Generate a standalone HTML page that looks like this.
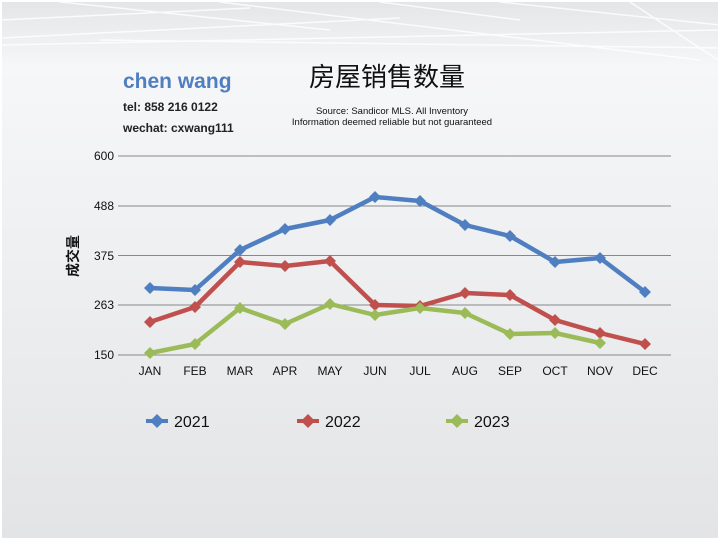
<!DOCTYPE html><html><head><meta charset="utf-8"><style>
body{margin:0;width:720px;height:540px;overflow:hidden;font-family:"Liberation Sans","Noto Sans CJK SC",sans-serif}
</style></head><body>
<svg width="720" height="540" xmlns="http://www.w3.org/2000/svg">
<defs><linearGradient id="bg" x1="0" y1="0" x2="0" y2="1">
<stop offset="0" stop-color="#e4e5e7"/><stop offset="0.12" stop-color="#f6f7f8"/><stop offset="0.5" stop-color="#eeeff1"/><stop offset="1" stop-color="#e3e4e6"/></linearGradient></defs>
<rect width="720" height="540" fill="#fff"/>
<rect x="2" y="2" width="716" height="536" fill="url(#bg)"/>
<g stroke="#fff" stroke-width="1.5" opacity="0.8" fill="none">
<path d="M60 2 L330 30 M220 2 L700 60 M380 2 L520 20 M500 2 L720 25 M630 2 L718 60 M2 20 L250 8 M2 38 L400 18 M2 45 L720 30 M100 40 L720 48"/></g>
<text x="123" y="88" font-size="21" font-weight="bold" fill="#4f7fc0" font-family="'Liberation Sans',sans-serif">chen wang</text>
<text x="123" y="111" font-size="12" font-weight="bold" fill="#222">tel: 858 216 0122</text>
<text x="123" y="132" font-size="12" font-weight="bold" fill="#222">wechat: cxwang111</text>
<text x="387" y="86" font-size="26" text-anchor="middle" fill="#111">房屋销售数量</text>
<text x="392" y="114" font-size="9.5" text-anchor="middle" fill="#111">Source: Sandicor MLS. All Inventory</text>
<text x="392" y="125" font-size="9.5" text-anchor="middle" fill="#111">Information deemed reliable but not guaranteed</text>
<g stroke="#888" stroke-width="1">
<line x1="118" y1="156" x2="671" y2="156"/><line x1="118" y1="206" x2="671" y2="206"/><line x1="118" y1="255.5" x2="671" y2="255.5"/><line x1="118" y1="305" x2="671" y2="305"/><line x1="118" y1="355" x2="671" y2="355"/></g>
<g font-size="12" fill="#111" text-anchor="end">
<text x="114" y="160">600</text><text x="114" y="210">488</text><text x="114" y="260">375</text><text x="114" y="309">263</text><text x="114" y="359">150</text></g>
<text transform="translate(78,256) rotate(-90)" font-size="14" font-weight="bold" text-anchor="middle" fill="#111">成交量</text>
<g font-size="12" fill="#111" text-anchor="middle">
<text x="150" y="375">JAN</text><text x="195" y="375">FEB</text><text x="240" y="375">MAR</text><text x="285" y="375">APR</text><text x="330" y="375">MAY</text><text x="375" y="375">JUN</text><text x="420" y="375">JUL</text><text x="465" y="375">AUG</text><text x="510" y="375">SEP</text><text x="555" y="375">OCT</text><text x="600" y="375">NOV</text><text x="645" y="375">DEC</text></g>
<g fill="none" stroke-width="4.5" stroke-linejoin="round">
<polyline stroke="#4f7fc0" points="150,288 195,290 240,250 285,229 330,220 375,197 420,201 465,225 510,236 555,262 600,258 645,292"/>
<polyline stroke="#c0504d" points="150,322 195,307 240,262 285,266 330,261 375,305 420,306 465,293 510,295 555,320 600,333 645,344"/>
<polyline stroke="#9bbb59" points="150,353 195,344 240,308 285,324 330,304 375,315 420,308 465,313 510,334 555,333 600,343"/></g>
<g id="m"></g>
<g fill="#4f7fc0"><path d="M150 282l6 6-6 6-6-6z M195 284l6 6-6 6-6-6z M240 244l6 6-6 6-6-6z M285 223l6 6-6 6-6-6z M330 214l6 6-6 6-6-6z M375 191l6 6-6 6-6-6z M420 195l6 6-6 6-6-6z M465 219l6 6-6 6-6-6z M510 230l6 6-6 6-6-6z M555 256l6 6-6 6-6-6z M600 252l6 6-6 6-6-6z M645 286l6 6-6 6-6-6z"/></g>
<g fill="#c0504d"><path d="M150 316l6 6-6 6-6-6z M195 301l6 6-6 6-6-6z M240 256l6 6-6 6-6-6z M285 260l6 6-6 6-6-6z M330 255l6 6-6 6-6-6z M375 299l6 6-6 6-6-6z M420 300l6 6-6 6-6-6z M465 287l6 6-6 6-6-6z M510 289l6 6-6 6-6-6z M555 314l6 6-6 6-6-6z M600 327l6 6-6 6-6-6z M645 338l6 6-6 6-6-6z"/></g>
<g fill="#9bbb59"><path d="M150 347l6 6-6 6-6-6z M195 338l6 6-6 6-6-6z M240 302l6 6-6 6-6-6z M285 318l6 6-6 6-6-6z M330 298l6 6-6 6-6-6z M375 309l6 6-6 6-6-6z M420 302l6 6-6 6-6-6z M465 307l6 6-6 6-6-6z M510 328l6 6-6 6-6-6z M555 327l6 6-6 6-6-6z M600 337l6 6-6 6-6-6z"/></g>
<g stroke-width="4"><line x1="146" y1="421" x2="168" y2="421" stroke="#4f7fc0"/><line x1="297" y1="421" x2="319" y2="421" stroke="#c0504d"/><line x1="446" y1="421" x2="468" y2="421" stroke="#9bbb59"/></g>
<path fill="#4f7fc0" d="M157 414l7 7-7 7-7-7z"/><path fill="#c0504d" d="M308 414l7 7-7 7-7-7z"/><path fill="#9bbb59" d="M457 414l7 7-7 7-7-7z"/>
<g font-size="16" fill="#111"><text x="174" y="427">2021</text><text x="325" y="427">2022</text><text x="474" y="427">2023</text></g>
</svg></body></html>
